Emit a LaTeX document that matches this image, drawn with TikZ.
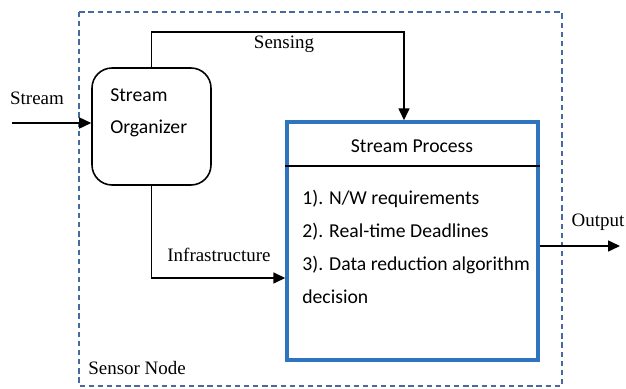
\documentclass[tikz,border=0pt]{standalone}
\usepackage{fontspec}
\setmainfont{Liberation Serif}
\newfontfamily\calibri{Carlito}
\usetikzlibrary{arrows.meta,positioning}

\definecolor{nodeblue}{RGB}{68,106,160}
\definecolor{procblue}{RGB}{46,117,190}

\tikzset{
    label/.style={font=\fontsize{10.8}{12}\selectfont, inner sep=0pt},
    boxtext/.style={font=\calibri\fontsize{11.2}{18.7}\selectfont, inner sep=0pt, align=left},
    flow/.style={-{Triangle[length=2.4mm,width=2.2mm]}, line width=0.9pt}
}

\begin{document}
\begin{tikzpicture}[x=0.02cm, y=-0.02cm]
    \useasboundingbox (0,0) rectangle (626,389);

    % sensor node border
    \draw[nodeblue, line width=1.3pt, dash pattern=on 3pt off 2.2pt] (79,12) rectangle (562,386);
    \node[label, anchor=west] (sn) at (88,368) {Sensor Node};

    % stream organizer
    \node[draw, rounded corners=0.4cm, line width=0.9pt, minimum width=2.38cm, minimum height=2.34cm] (org) at (151.5,126.5) {};
    \node[boxtext, anchor=north west] (orgtext) at (110,88) {Stream\\Organizer};

    % stream process
    \node[draw=procblue, line width=2pt, minimum width=5.02cm, minimum height=4.76cm] (proc) at (412.5,241) {};
    \draw[line width=0.9pt] (proc.west |- 0,166) -- (proc.east |- 0,166);
    \node[boxtext] (ptitle) at (412,146) {Stream Process};
    \node[boxtext, anchor=north west] (plist) at (302,190) {1). N/W requirements\\2). Real-time Deadlines\\3). Data reduction algorithm\\decision};

    % connectors
    \coordinate (in) at (12,123);
    \coordinate (top) at (156,32);
    \coordinate (out) at (620,246);
    \draw[flow] (in) -- (org.west |- in);
    \draw[flow] (org.north) -- (org.north |- top) -| ([xshift=-0.17cm]proc.north);
    \draw[flow] (org.south) |- ([yshift=-0.74cm]proc.west);
    \draw[flow] (proc.east |- out) -- (out);

    \node[label] (lstream) at (37,98) {Stream};
    \node[label] (lsense) at (284,44) {Sensing};
    \node[label] (linfra) at (219,255) {Infrastructure};
    \node[label] (lout) at (598,222) {Output};
\end{tikzpicture}
\end{document}
